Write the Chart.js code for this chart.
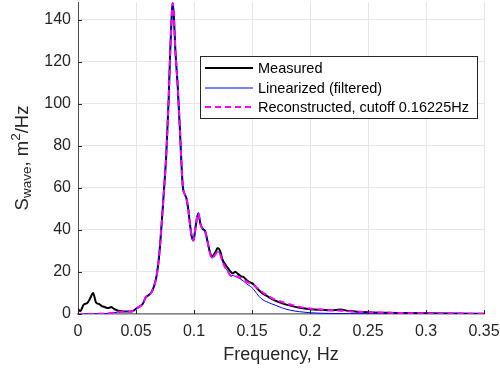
<!DOCTYPE html>
<html>
<head>
<meta charset="utf-8">
<script src="https://cdn.jsdelivr.net/npm/chart.js@4"></script>
<style>
  html, body { margin: 0; padding: 0; background: #fff; }
  #wrap { width: 500px; height: 371px; }
</style>
</head>
<body>
<div id="wrap"><canvas id="psdChart" width="500" height="371"></canvas></div>
<script>
// frequency grid, Hz
const freq = [
  0, 0.002, 0.005, 0.008, 0.0105, 0.013, 0.0155, 0.018, 0.0205, 0.023, 0.026, 0.0285, 0.031, 0.034, 0.037, 0.040, 0.044, 0.047,
  0.050, 0.053, 0.056, 0.0585, 0.061, 0.0635, 0.066, 0.068, 0.070, 0.072, 0.074, 0.076, 0.078, 0.0795, 0.0808, 0.0816,
  0.0825, 0.084, 0.086, 0.088, 0.0895, 0.0905, 0.092, 0.0935, 0.095, 0.0965, 0.098, 0.0995, 0.1015, 0.1037,
  0.1055, 0.1075, 0.1095, 0.1115, 0.1135, 0.1155, 0.118, 0.1205, 0.1225, 0.1245, 0.127, 0.129, 0.131, 0.1335, 0.1355, 0.138, 0.1405, 0.143, 0.1455, 0.1485, 0.151,
  0.154, 0.158, 0.164, 0.170, 0.1755, 0.183, 0.191, 0.200, 0.210, 0.218, 0.226, 0.234, 0.250, 0.275, 0.300, 0.325, 0.350
];

const measured = [
  2.4, 1.4, 4.5, 5.2, 7.5, 10, 5.5, 4.8, 3.8, 3.3, 2.8, 3.3, 2.4, 1.7, 1.4, 1.2, 1.2, 1.3,
  2.5, 3.5, 5, 8, 9, 10.5, 14, 19, 28, 42, 58, 75, 100, 125, 142, 148,
  143, 125, 108, 86, 68, 60, 57, 55, 50, 43, 37, 35, 42, 48,
  43, 40.5, 39.5, 35, 30, 27.5, 29, 31.4, 30, 26, 23.5, 22, 20.5, 19.3, 20.1, 19, 18, 17.5, 16, 15, 14.3,
  12.4, 10.3, 8.2, 6.4, 5.2, 4, 3, 2.3, 2, 1.8, 2.1, 1.4, 0.8, 0.5, 0.3, 0.2, 0.15
];

const linearized = [
  0, 0, 0, 0.02, 0.03, 0.05, 0.08, 0.1, 0.15, 0.2, 0.3, 0.45, 0.6, 0.85, 1.05, 1.2, 1.2, 1.3,
  2.5, 3.5, 5, 8, 9, 10.5, 14, 19, 28, 42, 58, 75, 100, 125, 142, 148,
  143, 125, 108, 86, 68, 60, 57, 55, 50, 43, 37, 35, 42, 48,
  43, 40.5, 39.5, 35, 29.5, 26.5, 28, 29.7, 28.5, 25, 22, 20.5, 18.5, 18.3, 18, 17.3, 16.5, 15.5, 14.3, 13.2, 12,
  9.8, 7.3, 5.5, 4.2, 3, 1.8, 1.1, 0.6, 0.35, 0.25, 0.2, 0.15, 0.1, 0.05, 0.03, 0.02, 0.01
];

const reconstructed = [
  0, 0, 0, 0.02, 0.03, 0.05, 0.08, 0.1, 0.15, 0.2, 0.3, 0.45, 0.6, 0.85, 1.05, 1.2, 1.2, 1.3,
  2.5, 3.5, 5, 8, 9, 10.5, 14, 19, 28, 42, 58, 75, 100, 125, 142, 148,
  143, 125, 108, 86, 68, 60, 57, 55, 50, 43, 37, 35, 42, 48,
  43, 40.5, 39.5, 35, 29.5, 26.5, 28, 29.7, 28.5, 25, 22, 20.5, 18.5, 17.8, 18, 17.6, 17, 16.5, 15.3, 14.6, 14,
  12.6, 10.8, 8.6, 6.8, 5.8, 4.5, 3.4, 2.6, 2.1, 1.8, 1.6, 1.3, 0.8, 0.5, 0.3, 0.2, 0.15
];

const seriesNames = ['Measured', 'Linearized (filtered)', 'Reconstructed, cutoff 0.16225Hz'];
const xTicks = [0, 0.05, 0.1, 0.15, 0.2, 0.25, 0.3, 0.35];
const yTicks = [0, 20, 40, 60, 80, 100, 120, 140];

const FONT = "'Liberation Sans', Arial, Helvetica, sans-serif";
const AXIS_COLOR = '#262626';

const toPoints = vals => vals.map((v, i) => ({ x: freq[i], y: v }));

// matlab style extras: inward ticks, y label with sub/superscript, legend box
const matlabBits = {
  id: 'matlabBits',
  afterDatasetsDraw(chart) {
    const ctx = chart.ctx;
    const area = chart.chartArea;
    const xs = chart.scales.x, ys = chart.scales.y;
    ctx.save();
    ctx.strokeStyle = AXIS_COLOR;
    ctx.lineWidth = 1;
    ctx.beginPath();
    xTicks.forEach(t => {
      const px = Math.round(xs.getPixelForValue(t)) + 0.5;
      ctx.moveTo(px, area.bottom);
      ctx.lineTo(px, area.bottom - 4);
    });
    yTicks.forEach(t => {
      const py = Math.round(ys.getPixelForValue(t)) + 0.5;
      ctx.moveTo(area.left, py);
      ctx.lineTo(area.left + 4, py);
    });
    ctx.stroke();
    ctx.restore();
  },
  afterDraw(chart) {
    const ctx = chart.ctx;
    const area = chart.chartArea;

    // y axis title: S_wave, m^2/Hz
    ctx.save();
    ctx.translate(28, (area.top + area.bottom) / 2);
    ctx.rotate(-Math.PI / 2);
    ctx.fillStyle = AXIS_COLOR;
    ctx.textBaseline = 'alphabetic';
    const big = '18.5px ' + FONT, small = '13.5px ' + FONT;
    const parts = [
      { t: 'S', f: big, dy: 0 },
      { t: 'wave', f: small, dy: 3 },
      { t: ', m', f: big, dy: 0 },
      { t: '2', f: small, dy: -8 },
      { t: '/Hz', f: big, dy: 0 }
    ];
    let total = 0;
    parts.forEach(p => { ctx.font = p.f; total += ctx.measureText(p.t).width; });
    let cx = -total / 2;
    parts.forEach(p => {
      ctx.font = p.f;
      ctx.fillText(p.t, cx, p.dy);
      cx += ctx.measureText(p.t).width;
    });
    ctx.restore();

    // legend box
    const bx = 200.5, by = 56.5, bw = 277, bh = 62;
    ctx.save();
    ctx.fillStyle = '#ffffff';
    ctx.fillRect(bx, by, bw, bh);
    ctx.strokeStyle = AXIS_COLOR;
    ctx.lineWidth = 1;
    ctx.strokeRect(bx, by, bw, bh);
    const ds = chart.data.datasets;
    const rowY = [68, 88, 107];
    ds.forEach((d, i) => {
      ctx.save();
      ctx.strokeStyle = d.borderColor;
      ctx.lineWidth = d.borderWidth;
      ctx.setLineDash(d.borderDash || []);
      ctx.beginPath();
      ctx.moveTo(205, rowY[i]);
      ctx.lineTo(253, rowY[i]);
      ctx.stroke();
      ctx.restore();
      ctx.fillStyle = '#000';
      ctx.font = '14.5px ' + FONT;
      ctx.textBaseline = 'middle';
      ctx.fillText(d.label, 258, rowY[i] + 1);
    });
    ctx.restore();
  }
};

const ctx = document.getElementById('psdChart').getContext('2d');
const psdChart = new Chart(ctx, {
  type: 'line',
  data: {
    datasets: [
      {
        label: seriesNames[0],
        data: toPoints(measured),
        borderColor: '#000000',
        borderWidth: 2,
        order: 3
      },
      {
        label: seriesNames[1],
        data: toPoints(linearized),
        borderColor: '#0000ff',
        borderWidth: 1,
        order: 2
      },
      {
        label: seriesNames[2],
        data: toPoints(reconstructed),
        borderColor: '#ff00ff',
        borderWidth: 2,
        borderDash: [6, 4],
        order: 1
      }
    ]
  },
  options: {
    responsive: false,
    animation: false,
    devicePixelRatio: 1,
    elements: {
      point: { radius: 0 },
      line: { cubicInterpolationMode: 'monotone', fill: false }
    },
    layout: { padding: { top: 2, right: 16, left: 0, bottom: 0 } },
    plugins: {
      legend: { display: false },
      tooltip: { enabled: false }
    },
    scales: {
      x: {
        type: 'linear',
        min: 0,
        max: 0.35,
        afterFit: s => {
          s.height = 57;
          s.paddingLeft = 0;
          s.paddingRight = 0;
        },
        afterBuildTicks: s => { s.ticks = xTicks.map(v => ({ value: v })); },
        ticks: {
          padding: 8,
          color: AXIS_COLOR,
          font: { family: FONT, size: 16 },
          maxRotation: 0,
          callback: v => String(+v.toFixed(2))
        },
        grid: { color: '#e6e6e6', drawTicks: false },
        border: { display: true, color: '#808080', width: 1.5 },
        title: {
          display: true,
          text: 'Frequency, Hz',
          color: AXIS_COLOR,
          font: { family: FONT, size: 18 },
          padding: { top: 6, bottom: 5 }
        }
      },
      y: {
        min: 0,
        max: 148.5,
        afterFit: s => {
          s.width = 78;
          s.paddingTop = 0;
          s.paddingBottom = 0;
        },
        afterBuildTicks: s => { s.ticks = yTicks.map(v => ({ value: v })); },
        ticks: {
          padding: 7,
          color: AXIS_COLOR,
          font: { family: FONT, size: 16 }
        },
        grid: { color: '#e6e6e6', drawTicks: false },
        border: { display: true, color: '#4d4d4d', width: 1 }
      }
    }
  },
  plugins: [matlabBits]
});
</script>
</body>
</html>
